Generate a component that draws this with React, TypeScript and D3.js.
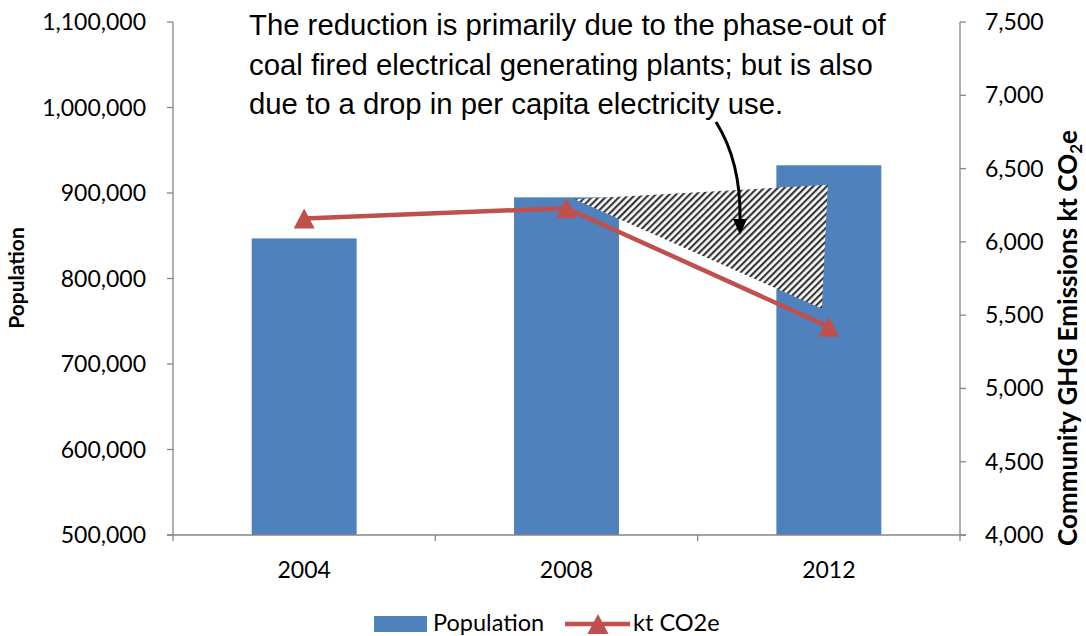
import React from "react";
import * as d3 from "d3";

// Census years on the category axis
const years = ["2004", "2008", "2012"];
// Population (left axis)
const population = [846900, 894900, 932400];
// Community GHG emissions, kt CO2e (right axis)
const emissions = [6160, 6230, 5420];

const popTicks = [500000, 600000, 700000, 800000, 900000, 1000000, 1100000];
const emisTicks = [4000, 4500, 5000, 5500, 6000, 6500, 7000, 7500];

const noteLines = [
  "The reduction is primarily due to the phase-out of",
  "coal fired electrical generating plants; but is also",
  "due to a drop in per capita electricity use.",
];

// Hatched wedge between 2008 and 2012, in kt CO2e
const wedgeStart2008 = 6290;
const wedgeTop2012 = 6390;
const wedgeBottom2012 = 5545;

const BLUE = "#4F81BD";
const RED = "#C0504D";
const AXIS = "#868686";
const LABEL_FONT = "Lato, 'Open Sans', sans-serif";
const NOTE_FONT = "'Liberation Sans', Arial, sans-serif";

const W = 1086;
const H = 636;
const plot = { left: 173, right: 960, top: 22, bottom: 535 };

const fmt = d3.format(",");

function tri(cx: number, cy: number, w = 21, h = 20) {
  return `M${cx},${cy - h / 2}L${cx + w / 2},${cy + h / 2}L${cx - w / 2},${cy + h / 2}Z`;
}

export default function App() {
  const x = d3
    .scaleBand<string>()
    .domain(years)
    .range([plot.left, plot.right])
    .paddingInner(0.6)
    .paddingOuter(0.3);
  const yPop = d3.scaleLinear().domain([500000, 1100000]).range([plot.bottom, plot.top]);
  const yEm = d3.scaleLinear().domain([4000, 7500]).range([plot.bottom, plot.top]);

  const cx = (y: string) => (x(y) as number) + x.bandwidth() / 2;
  const step = x.step();
  const boundaries = d3.range(years.length + 1).map((i) => plot.left + i * step);

  const line = d3
    .line<number>()
    .x((_, i) => cx(years[i]))
    .y((d) => yEm(d));

  const wedge = [
    [cx("2008") + 8, yEm(wedgeStart2008)],
    [cx("2012") - 1, yEm(wedgeTop2012)],
    [cx("2012") - 7, yEm(wedgeBottom2012)],
  ];
  const wedgePath = "M" + wedge.map((p) => p.join(",")).join("L") + "Z";

  // Curved pointer from the note down into the wedge
  const arrowStart = [716, 122];
  const arrowEnd = [740, 219];
  const arrowCtrl = [741, 162];

  return (
    <svg
      width={W}
      height={H}
      style={{ position: "absolute", left: 0, top: 0, background: "#fff" }}
    >
      <defs>
        <pattern
          id="hatch"
          patternUnits="userSpaceOnUse"
          width="4.8"
          height="4.8"
          patternTransform="rotate(45)"
        >
          <rect width="4.8" height="4.8" fill="#fff" />
          <line x1="1.2" y1="0" x2="1.2" y2="4.8" stroke="#222" strokeWidth="2" />
        </pattern>
      </defs>

      {/* bars */}
      {years.map((yr, i) => (
        <rect
          key={yr}
          x={x(yr)}
          y={yPop(population[i])}
          width={x.bandwidth()}
          height={plot.bottom - yPop(population[i])}
          fill={BLUE}
        />
      ))}

      {/* axes */}
      <g stroke={AXIS} strokeWidth={1.3} fill="none">
        <line x1={plot.left} x2={plot.left} y1={plot.top} y2={plot.bottom} />
        <line x1={plot.right} x2={plot.right} y1={plot.top} y2={plot.bottom} />
        <line x1={plot.left - 6} x2={plot.right + 6} y1={plot.bottom} y2={plot.bottom} />
        {popTicks.map((t) => (
          <line key={t} x1={plot.left - 6} x2={plot.left} y1={yPop(t)} y2={yPop(t)} />
        ))}
        {emisTicks.map((t) => (
          <line key={t} x1={plot.right} x2={plot.right + 6} y1={yEm(t)} y2={yEm(t)} />
        ))}
        {boundaries.map((b, i) => (
          <line key={i} x1={b} x2={b} y1={plot.bottom} y2={plot.bottom + 6} />
        ))}
      </g>

      <g fontFamily={LABEL_FONT} fontSize={23} fill="#000">
        {popTicks.map((t) => (
          <text key={t} x={plot.left - 27} y={yPop(t)} dy="0.35em" textAnchor="end">
            {fmt(t)}
          </text>
        ))}
        {emisTicks.map((t) => (
          <text key={t} x={plot.right + 25} y={yEm(t)} dy="0.35em" textAnchor="start">
            {fmt(t)}
          </text>
        ))}
        {years.map((yr) => (
          <text key={yr} x={cx(yr)} y={578} textAnchor="middle">
            {yr}
          </text>
        ))}
      </g>

      {/* axis titles */}
      <text
        transform={`translate(24,278) rotate(-90)`}
        textAnchor="middle"
        fontFamily={LABEL_FONT}
        fontWeight="bold"
        fontSize={21}
      >
        Population
      </text>
      <text
        transform={`translate(1077,338) rotate(-90)`}
        textAnchor="middle"
        fontFamily={LABEL_FONT}
        fontWeight="bold"
        fontSize={26}
      >
        Community GHG Emissions kt CO
        <tspan fontSize={17} dy={5}>2</tspan>
        <tspan dy={-5}>e</tspan>
      </text>

      {/* hatched wedge */}
      <path d={wedgePath} fill="url(#hatch)" />

      {/* emissions line */}
      <path d={line(emissions) as string} fill="none" stroke={RED} strokeWidth={4.5} />
      {emissions.map((v, i) => (
        <path key={i} d={tri(cx(years[i]), yEm(v))} fill={RED} />
      ))}

      {/* note */}
      <g fontFamily={NOTE_FONT} fontSize={29.3} fill="#000">
        {noteLines.map((l, i) => (
          <text key={i} x={249} y={35 + i * 39.5}>
            {l}
          </text>
        ))}
      </g>
      <path
        d={`M${arrowStart}Q${arrowCtrl} ${arrowEnd}`}
        fill="none"
        stroke="#000"
        strokeWidth={3}
      />
      <path
        d={`M${arrowEnd[0] - 7},${arrowEnd[1]}L${arrowEnd[0] + 7},${arrowEnd[1]}L${arrowEnd[0]},${arrowEnd[1] + 16}Z`}
        fill="#000"
      />

      {/* legend */}
      <g fontFamily={LABEL_FONT} fontSize={23.5}>
        <rect x={374} y={616} width={53} height={16} fill={BLUE} />
        <text x={433} y={631}>Population</text>
        <line x1={565} x2={630} y1={624} y2={624} stroke={RED} strokeWidth={4.5} />
        <path d={tri(598, 624)} fill={RED} />
        <text x={633} y={631}>kt CO2e</text>
      </g>
    </svg>
  );
}
